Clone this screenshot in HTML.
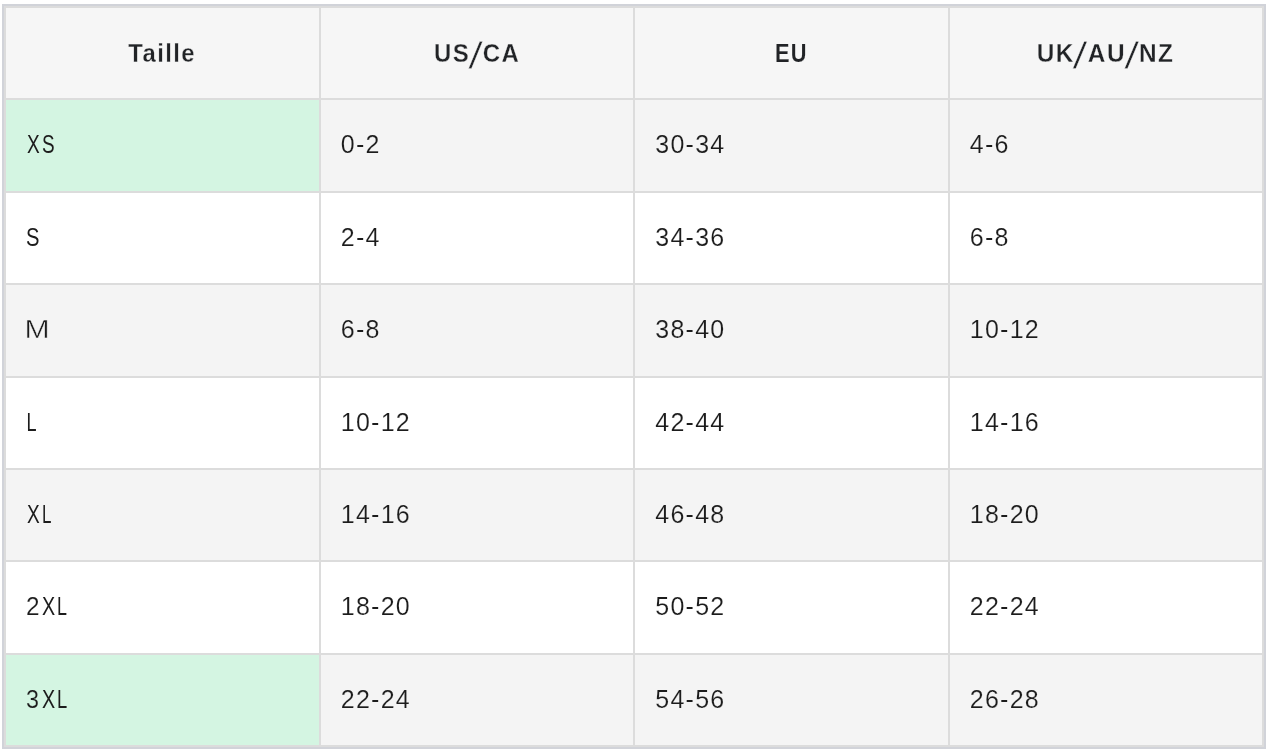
<!DOCTYPE html>
<html lang="fr">
<head>
<meta charset="utf-8">
<title>Guide des tailles</title>
<style>
html,body{margin:0;padding:0;background:#ffffff;}
body{width:1268px;height:752px;overflow:hidden;position:relative;font-family:"Liberation Sans",sans-serif;}
.frame{position:absolute;left:2px;top:4px;width:1264px;height:745px;background:#d1d3d9;}
.grid{position:absolute;left:4px;top:6px;width:1260px;height:741px;background:#dcdcdc;}
.c,.h{position:absolute;box-sizing:border-box;white-space:nowrap;overflow:hidden;will-change:transform;}
.c span,.h span{display:inline-block;transform-origin:0 50%;}
.h span.s{transform-origin:50% 50%;margin:0 2.5px;transform:translate(-0.6px,2.0px) skewX(-17deg) scaleY(1.45);}
.c span.a{position:absolute;top:0;letter-spacing:0;}
.c span.n{-webkit-text-stroke-width:0;}
.h span.n{-webkit-text-stroke-width:0.1px;}
.c span.w{-webkit-text-stroke-width:0.45px;}
.c{color:#1c1c1c;font-size:25px;padding-left:20px;letter-spacing:1.25px;}
.h{text-align:center;font-weight:bold;color:#212326;font-size:25.5px;letter-spacing:1.5px;background:#f6f6f6;-webkit-text-stroke:0.3px #f6f6f6;}
.o{background:#f4f4f4;-webkit-text-stroke:0.15px #f4f4f4;}
.e{background:#ffffff;-webkit-text-stroke:0.15px #ffffff;}
.g{background:#d4f5e2;-webkit-text-stroke:0.15px #d4f5e2;}
</style>
</head>
<body>
<div class="frame"></div>
<div class="grid"></div>
<div class="h" style="left:6px;top:8px;width:313px;height:90px;line-height:91.3px;"><span style="transform:translateX(2.33px) scaleX(0.936)">Taille</span></div>
<div class="h" style="left:321px;top:8px;width:312px;height:90px;line-height:91.3px;"><span style="transform:translateX(3.01px) scaleX(0.939)">US<span class="s">/</span>CA</span></div>
<div class="h" style="left:635px;top:8px;width:313px;height:90px;line-height:91.3px;"><span class="n" style="transform:translateX(2.93px) scaleX(0.854)">EU</span></div>
<div class="h" style="left:950px;top:8px;width:312px;height:90px;line-height:91.3px;"><span style="transform:translateX(2.68px) scaleX(0.957)">UK<span class="s">/</span>AU<span class="s">/</span>NZ</span></div>
<div class="c g" style="left:6px;top:100px;width:313px;height:91px;line-height:89px;"><span class="a n" style="left:20.57px;transform:scaleX(0.763)">X</span><span class="a n" style="left:36.24px;transform:scaleX(0.757)">S</span></div>
<div class="c o" style="left:321px;top:100px;width:312px;height:91px;line-height:89px;"><span style="transform:translateX(-0.2px)">0-2</span></div>
<div class="c o" style="left:635px;top:100px;width:313px;height:91px;line-height:89px;"><span style="transform:translateX(0.3px)">30-34</span></div>
<div class="c o" style="left:950px;top:100px;width:312px;height:91px;line-height:89px;"><span style="transform:translateX(-0.2px)">4-6</span></div>
<div class="c e" style="left:6px;top:193px;width:313px;height:90px;line-height:88px;"><span class="n" style="transform:translateX(-0.01px) scaleX(0.807)">S</span></div>
<div class="c e" style="left:321px;top:193px;width:312px;height:90px;line-height:88px;"><span style="transform:translateX(-0.2px)">2-4</span></div>
<div class="c e" style="left:635px;top:193px;width:313px;height:90px;line-height:88px;"><span style="transform:translateX(0.3px)">34-36</span></div>
<div class="c e" style="left:950px;top:193px;width:312px;height:90px;line-height:88px;"><span style="transform:translateX(-0.2px)">6-8</span></div>
<div class="c o" style="left:6px;top:285px;width:313px;height:91px;line-height:89px;"><span class="w" style="transform:translateX(-1.47px) scaleX(1.207)">M</span></div>
<div class="c o" style="left:321px;top:285px;width:312px;height:91px;line-height:89px;"><span style="transform:translateX(-0.2px)">6-8</span></div>
<div class="c o" style="left:635px;top:285px;width:313px;height:91px;line-height:89px;"><span style="transform:translateX(0.3px)">38-40</span></div>
<div class="c o" style="left:950px;top:285px;width:312px;height:91px;line-height:89px;"><span style="transform:translateX(-0.2px)">10-12</span></div>
<div class="c e" style="left:6px;top:378px;width:313px;height:90px;line-height:88px;"><span class="n" style="transform:translateX(0.6px) scaleX(0.723)">L</span></div>
<div class="c e" style="left:321px;top:378px;width:312px;height:90px;line-height:88px;"><span style="transform:translateX(-0.2px)">10-12</span></div>
<div class="c e" style="left:635px;top:378px;width:313px;height:90px;line-height:88px;"><span style="transform:translateX(0.3px)">42-44</span></div>
<div class="c e" style="left:950px;top:378px;width:312px;height:90px;line-height:88px;"><span style="transform:translateX(-0.2px)">14-16</span></div>
<div class="c o" style="left:6px;top:470px;width:313px;height:90px;line-height:88px;"><span class="a n" style="left:20.57px;transform:scaleX(0.763)">X</span><span class="a n" style="left:36.4px;transform:scaleX(0.68)">L</span></div>
<div class="c o" style="left:321px;top:470px;width:312px;height:90px;line-height:88px;"><span style="transform:translateX(-0.2px)">14-16</span></div>
<div class="c o" style="left:635px;top:470px;width:313px;height:90px;line-height:88px;"><span style="transform:translateX(0.3px)">46-48</span></div>
<div class="c o" style="left:950px;top:470px;width:312px;height:90px;line-height:88px;"><span style="transform:translateX(-0.2px)">18-20</span></div>
<div class="c e" style="left:6px;top:562px;width:313px;height:91px;line-height:89px;"><span class="a" style="left:20.07px;transform:scaleX(0.975)">2</span><span class="a n" style="left:35.76px;transform:scaleX(0.789)">X</span><span class="a n" style="left:51.23px;transform:scaleX(0.717)">L</span></div>
<div class="c e" style="left:321px;top:562px;width:312px;height:91px;line-height:89px;"><span style="transform:translateX(-0.2px)">18-20</span></div>
<div class="c e" style="left:635px;top:562px;width:313px;height:91px;line-height:89px;"><span style="transform:translateX(0.3px)">50-52</span></div>
<div class="c e" style="left:950px;top:562px;width:312px;height:91px;line-height:89px;"><span style="transform:translateX(-0.2px)">22-24</span></div>
<div class="c g" style="left:6px;top:655px;width:313px;height:90px;line-height:88px;"><span class="a" style="left:20.41px;transform:scaleX(0.936)">3</span><span class="a n" style="left:35.76px;transform:scaleX(0.789)">X</span><span class="a n" style="left:51.19px;transform:scaleX(0.735)">L</span></div>
<div class="c o" style="left:321px;top:655px;width:312px;height:90px;line-height:88px;"><span style="transform:translateX(-0.2px)">22-24</span></div>
<div class="c o" style="left:635px;top:655px;width:313px;height:90px;line-height:88px;"><span style="transform:translateX(0.3px)">54-56</span></div>
<div class="c o" style="left:950px;top:655px;width:312px;height:90px;line-height:88px;"><span style="transform:translateX(-0.2px)">26-28</span></div>
</body>
</html>
